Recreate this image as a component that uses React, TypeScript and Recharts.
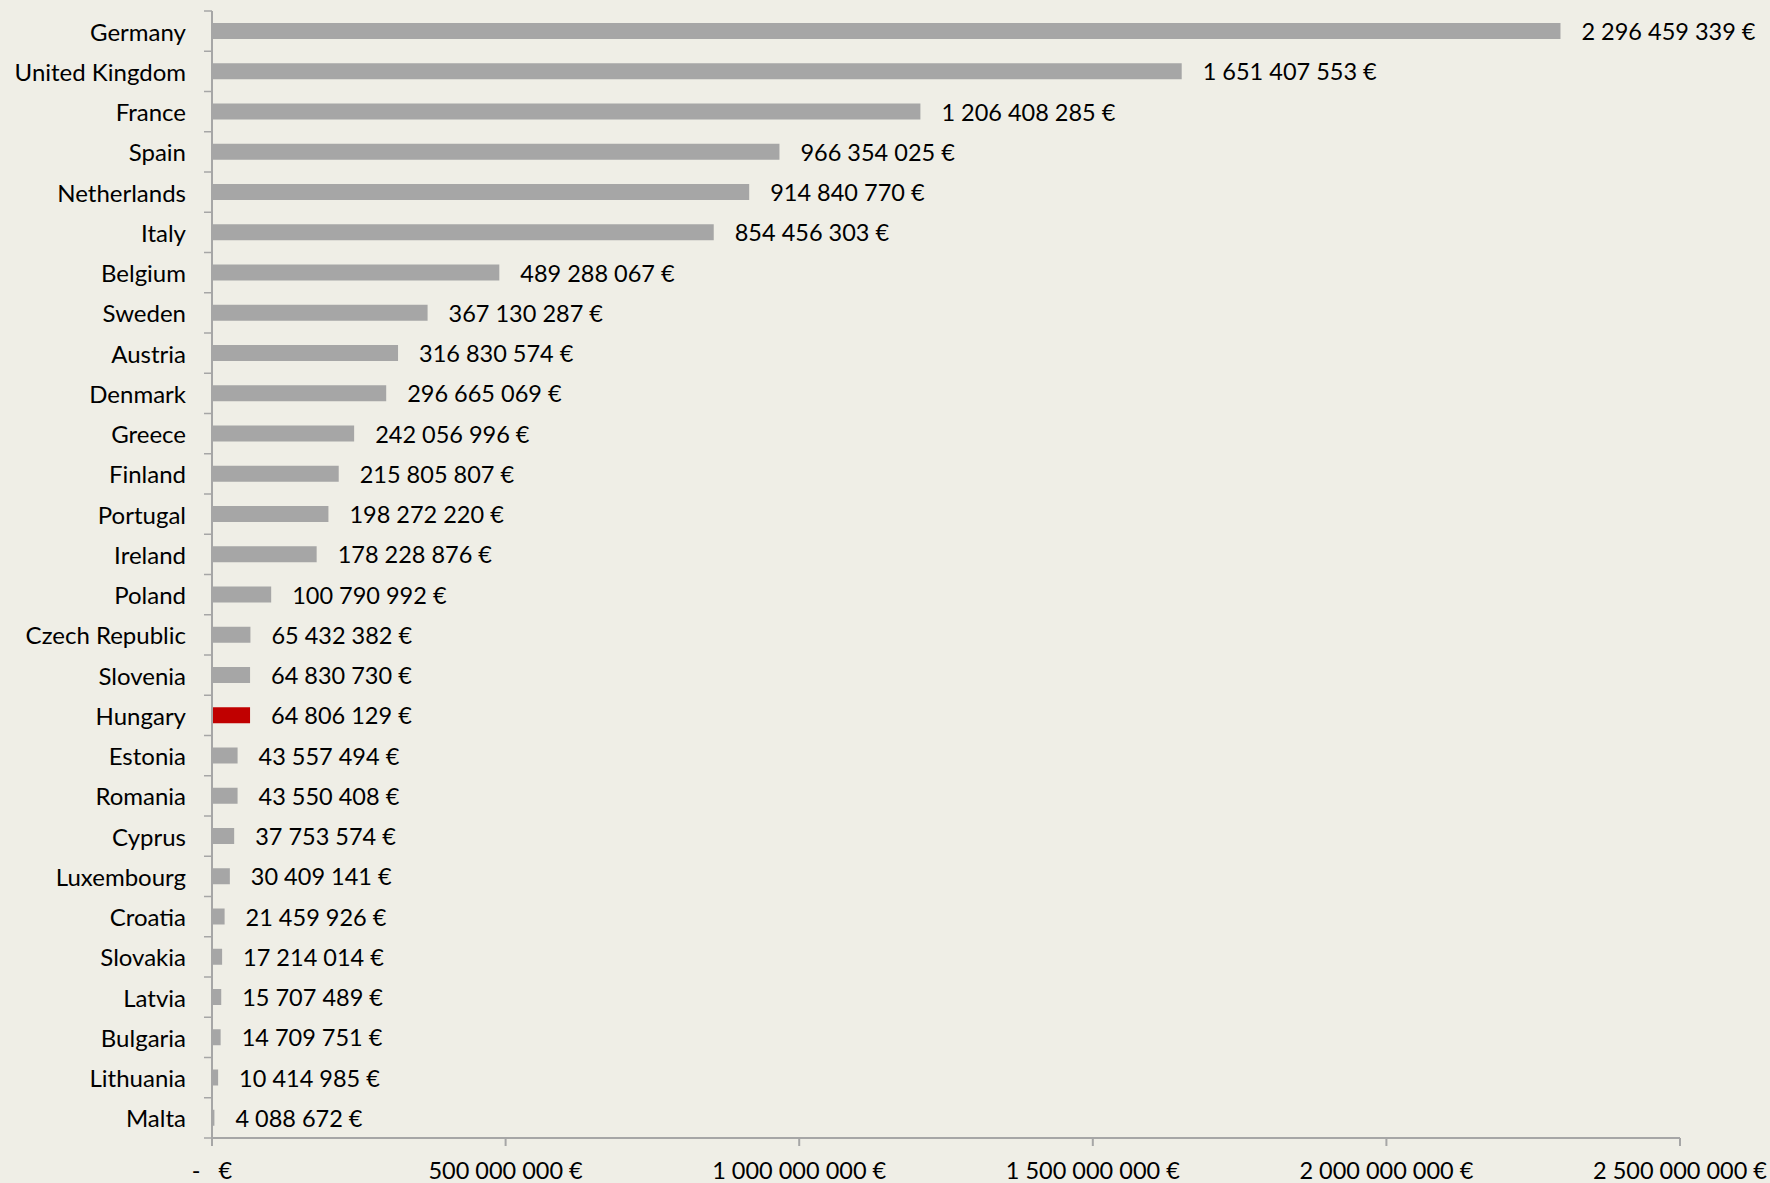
import React from "react";
import { BarChart, Bar, XAxis, YAxis, Cell, LabelList } from "recharts";

const countries = [
  "Germany", "United Kingdom", "France", "Spain", "Netherlands", "Italy", "Belgium",
  "Sweden", "Austria", "Denmark", "Greece", "Finland", "Portugal", "Ireland", "Poland",
  "Czech Republic", "Slovenia", "Hungary", "Estonia", "Romania", "Cyprus", "Luxembourg",
  "Croatia", "Slovakia", "Latvia", "Bulgaria", "Lithuania", "Malta",
];

const amounts = [
  2296459339, 1651407553, 1206408285, 966354025, 914840770, 854456303, 489288067,
  367130287, 316830574, 296665069, 242056996, 215805807, 198272220, 178228876, 100790992,
  65432382, 64830730, 64806129, 43557494, 43550408, 37753574, 30409141,
  21459926, 17214014, 15707489, 14709751, 10414985, 4088672,
];

const xTicks = [0, 500000000, 1000000000, 1500000000, 2000000000, 2500000000];
const highlighted = "Hungary";

const data = countries.map((c, i) => ({ country: c, value: amounts[i] }));

const W = 1770;
const H = 1183;
const TOP = 11;
const XAXIS_H = 45;
const YAXIS_W = 212;
const RIGHT = 90;
const BAND = (H - TOP - XAXIS_H) / countries.length;
const FONT = "Lato, 'Open Sans', sans-serif";
const AXIS_COLOR = "#A6A6A6";

const fmt = (v: number) => {
  const s = String(Math.round(v));
  return s.replace(/\B(?=(\d{3})+(?!\d))/g, " ") + " €";
};

const YTick = (props: any) => {
  const { y, payload, index } = props;
  const last = index === countries.length - 1;
  return (
    <g>
      <line x1={YAXIS_W - 8} x2={YAXIS_W} y1={y - BAND / 2} y2={y - BAND / 2} stroke={AXIS_COLOR} strokeWidth={1.5} />
      {last && (
        <line x1={YAXIS_W - 8} x2={YAXIS_W} y1={y + BAND / 2} y2={y + BAND / 2} stroke={AXIS_COLOR} strokeWidth={1.5} />
      )}
      <text x={186} y={y} textAnchor="end" dominantBaseline="central" fontFamily={FONT} fontSize={24} fill="#000">
        {payload.value}
      </text>
    </g>
  );
};

const XTick = (props: any) => {
  const { x, y, payload } = props;
  const label = payload.value === 0 ? "-   €" : fmt(payload.value);
  return (
    <text x={x} y={y + 22} textAnchor="middle" dominantBaseline="central" fontFamily={FONT} fontSize={23.5} fill="#000" style={{ whiteSpace: "pre" }}>
      {label}
    </text>
  );
};

const ValueLabel = (props: any) => {
  const { x, y, width, height, value } = props;
  return (
    <text x={x + width + 21} y={y + height / 2} dominantBaseline="central" fontFamily={FONT} fontSize={23.5} fill="#000">
      {fmt(value)}
    </text>
  );
};

export default function App() {
  return (
    <div style={{ position: "absolute", left: 0, top: 0, width: W, height: H, background: "#EFEEE6" }}>
      <BarChart
        width={W}
        height={H}
        data={data}
        layout="vertical"
        margin={{ top: TOP, right: RIGHT, bottom: 0, left: 0 }}
        barCategoryGap={0}
      >
        <XAxis
          type="number"
          domain={[0, 2500000000]}
          ticks={xTicks}
          height={XAXIS_H}
          stroke={AXIS_COLOR}
          strokeWidth={2}
          tickSize={8}
          tick={<XTick />}
          interval={0}
        />
        <YAxis
          type="category"
          dataKey="country"
          width={YAXIS_W}
          stroke={AXIS_COLOR}
          strokeWidth={2}
          tickLine={false}
          tick={<YTick />}
          interval={0}
        />
        <Bar dataKey="value" barSize={16} isAnimationActive={false}>
          {data.map((d) => (
            <Cell key={d.country} fill={d.country === highlighted ? "#C00000" : "#A6A6A6"} />
          ))}
          <LabelList dataKey="value" content={<ValueLabel />} />
        </Bar>
      </BarChart>
    </div>
  );
}
